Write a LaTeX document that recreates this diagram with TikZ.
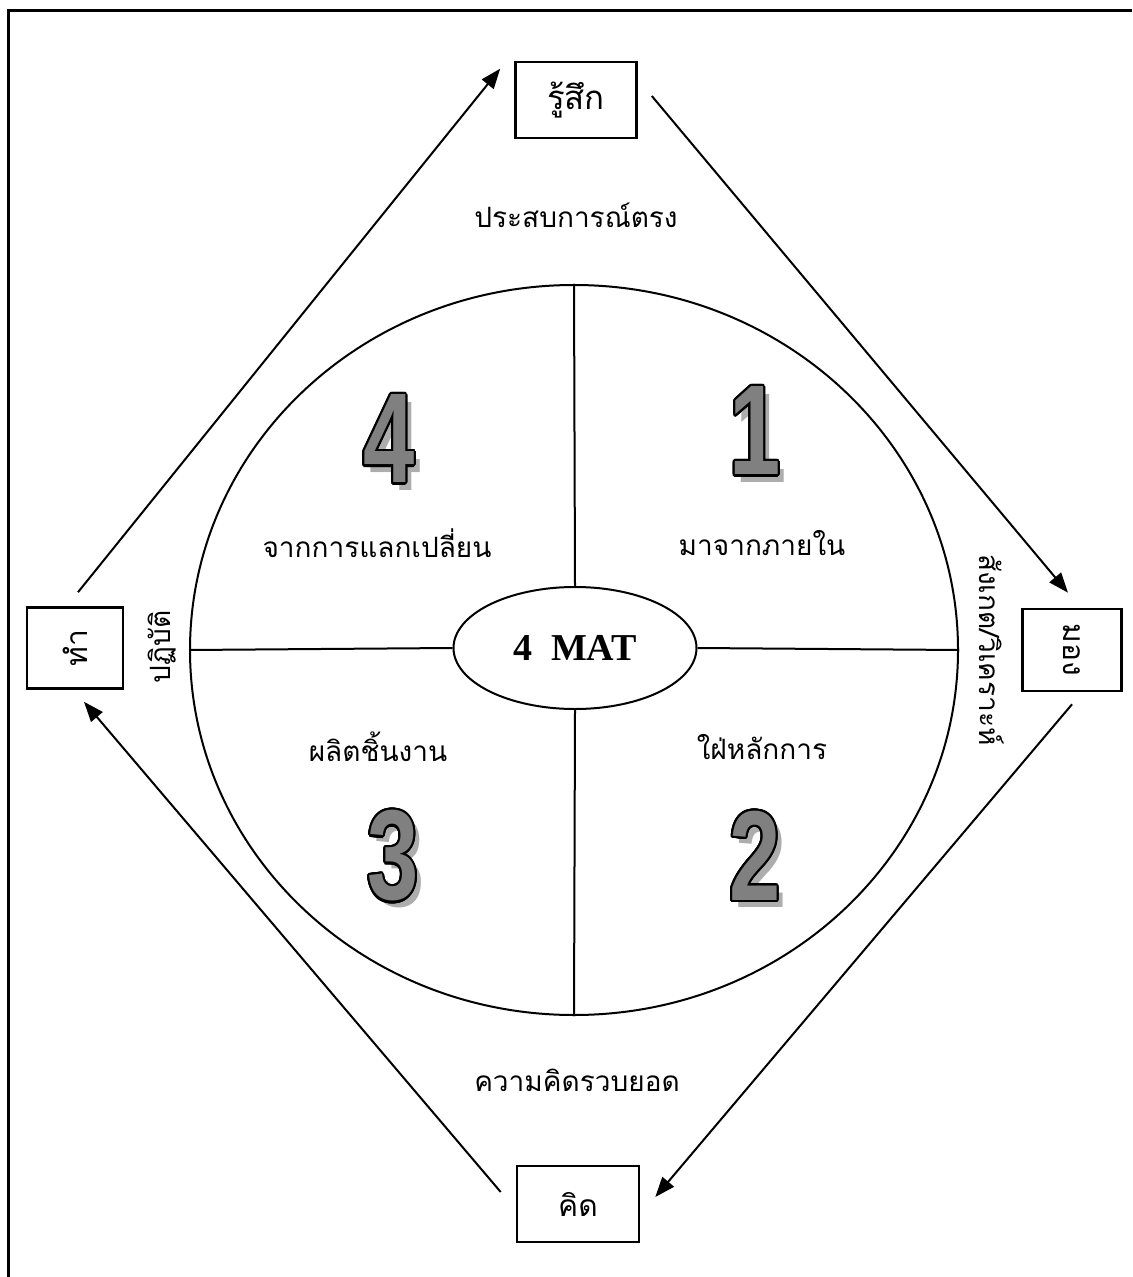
\documentclass[tikz,border=0pt]{standalone}
\usepackage{fontspec}
\setmainfont{Liberation Serif}
\newfontfamily\thai[Script=Thai]{Loma}
\newfontfamily\numfont{Liberation Sans}
\usepackage[copies]{contour}
\contourlength{1.2pt}
\contournumber{24}
\usetikzlibrary{calc,arrows.meta,shapes.geometric}
\begin{document}
\begin{tikzpicture}[x=0.5pt,y=-0.5pt,
  box/.style={draw,line width=1.3pt,inner sep=0pt,font=\thai\fontsize{15}{18}\selectfont},
  arr/.style={line width=1pt,-{Triangle[length=10pt,width=7.5pt]}},
  lbl/.style={font=\thai\fontsize{14}{17}\selectfont,inner sep=0pt},
  numsty/.style={font=\numfont\bfseries\fontsize{64}{64}\selectfont,inner sep=0pt},
  shade/.style={numsty,text=black!32},
  thin/.style={line width=1pt},
]
\useasboundingbox (0,0) rectangle (1132,1277);
% page frame (top and left edges only)
\draw[line width=1.5pt] (8,1277) -- (8,11) -- (1132,11);

% outer boxes
\node[box,minimum width=60.5pt,minimum height=38pt] (feel) at (576,100) {\fontsize{16.5}{18}\selectfont รู้สึก};
\node[box,minimum width=49.5pt,minimum height=41pt] (look) at (1072,650) {\rotatebox{-90}{มอง}};
\node[box,minimum width=61pt,minimum height=38pt] (think) at (578,1204) {คิด};
\node[box,minimum width=48pt,minimum height=40.5pt] (do) at (75,648) {\rotatebox{90}{ทำ}};

% arrows
\draw[arr] ($(do.north)+(3,-14)$) -- ($(feel.north west)+(-14,8)$);
\draw[arr] ($(feel.east)+(14,-4)$) -- ($(look.north)+(-4,-15)$);
\draw[arr] ($(look.south)+(0,12)$) -- ($(think.east)+(15,-7)$);
\draw[arr] ($(think.west)+(-15,-12)$) -- ($(do.south)+(9,12)$);

% wheel
\node[draw,thin,ellipse,minimum width=384pt,minimum height=365pt,inner sep=0pt] (wheel) at (574,650) {};
\node[draw,thin,ellipse,minimum width=121.5pt,minimum height=61pt,inner sep=0pt,
      font=\bfseries\fontsize{19}{20}\selectfont] (mat) at (575,648) {4~~MAT};
\draw[thin] (wheel.north) -- (mat.north);
\draw[thin] (mat.south) -- (wheel.south);
\draw[thin] (wheel.west) -- (mat.west);
\draw[thin] (mat.east) -- (wheel.east);

% labels
\node[lbl] (direct) at (576,215) {ประสบการณ์ตรง};
\node[lbl] (concept) at (577,1080) {ความคิดรวบยอด};
\node[lbl] (q4) at (377,543) {จากการแลกเปลี่ยน};
\node[lbl] (q1) at (762,543) {มาจากภายใน};
\node[lbl] (q3) at (378,747) {ผลิตชิ้นงาน};
\node[lbl] (q2) at (762,747) {ใฝ่หลักการ};
\node[lbl,rotate=90] (practice) at (162,647) {ปฏิบัติ};
\node[lbl,rotate=-90] (analyse) at (992,650) {สังเกต/วิเคราะห์};

% big numbers
\node[shade] (s4) at (395,446) {\scalebox{0.72}[1]{4}};
\node[numsty] (n4) at (389,440) {\scalebox{0.72}[1]{\contour{black}{\textcolor{black!50}{4}}}};
\node[shade] (s1) at (761,438) {\scalebox{0.72}[1]{1}};
\node[numsty] (n1) at (755,432) {\scalebox{0.72}[1]{\contour{black}{\textcolor{black!50}{1}}}};
\node[shade] (s3) at (399,863) {\scalebox{0.72}[1]{3}};
\node[numsty] (n3) at (393,857) {\scalebox{0.72}[1]{\contour{black}{\textcolor{black!50}{3}}}};
\node[shade] (s2) at (761,863) {\scalebox{0.72}[1]{2}};
\node[numsty] (n2) at (755,857) {\scalebox{0.72}[1]{\contour{black}{\textcolor{black!50}{2}}}};
\end{tikzpicture}
\end{document}
